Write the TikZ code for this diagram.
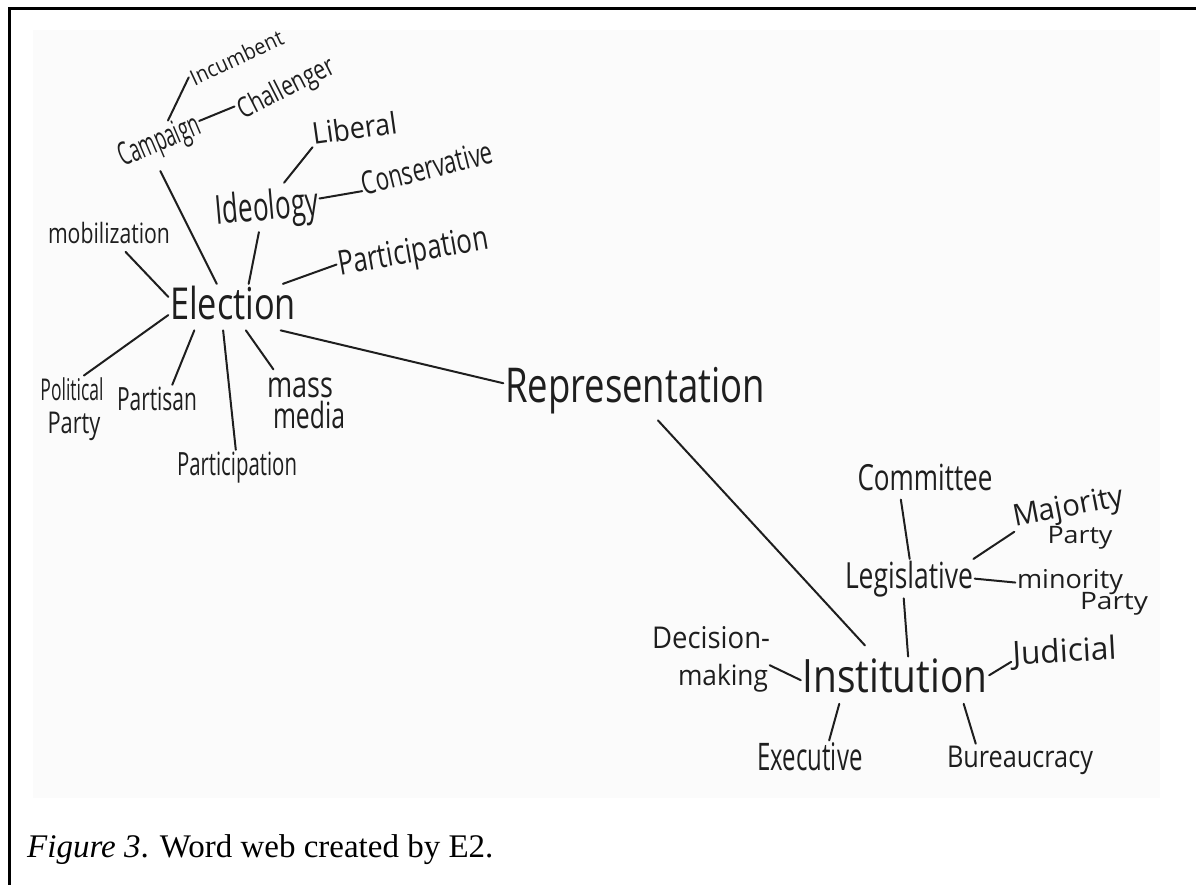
\documentclass[tikz,border=0pt]{standalone}
\usepackage{fontspec}
\usepackage{graphicx}
\setmainfont{Liberation Serif}
\newfontfamily\handfont{Open Sans}
\definecolor{ink}{HTML}{1E1E1E}
\definecolor{paper}{HTML}{FBFBFB}
% handwritten word: font size, target width, text (fixed strut so every box has the same height/depth)
\newcommand{\hw}[3]{\resizebox{#2pt}{\height}{\handfont\fontsize{#1pt}{#1pt}\selectfont\rule[-0.22em]{0pt}{0.94em}#3}}
\tikzset{
  word/.style={inner sep=1.5pt, anchor=base, text=ink},
  link/.style={draw=ink, line width=2pt, line cap=round},
}
\begin{document}
\begin{tikzpicture}[x=1pt,y=-1pt]
\useasboundingbox (0,0) rectangle (1196,885);
\fill[white] (0,0) rectangle (1196,885);
\fill[paper] (33,30) rectangle (1160,798);
\draw[line width=3pt] (9,885) -- (9,9) -- (1196,9);

% election cluster
\node[word, rotate=25] (incumbent) at (240,65) {\hw{22}{100}{Incumbent}};
\node[word, rotate=27] (challenger) at (290,96) {\hw{28}{105}{Challenger}};
\node[word, rotate=23] (campaign) at (163,150) {\hw{32}{86}{Campaign}};
\node[word, rotate=8] (liberal) at (356,139) {\hw{30}{85}{Liberal}};
\node[word, rotate=5] (ideology) at (268,220) {\hw{40}{103}{Ideology}};
\node[word, rotate=14] (conservative) at (430,179) {\hw{32}{134}{Conservative}};
\node[word, rotate=10] (particip1) at (415,262) {\hw{34}{152}{Participation}};
\node[word] (mobilization) at (109,244) {\hw{28}{122}{mobilization}};
\node[word] (election) at (233,319) {\hw{44}{126}{Election}};
\node[word] (political) at (72,400) {\hw{30}{63}{Political}};
\node[word] (party1) at (74,433) {\hw{30}{53}{Party}};
\node[word] (partisan) at (157,410) {\hw{32}{80}{Partisan}};
\node[word] (particip2) at (237,475) {\hw{32}{120}{Participation}};
\node[word] (mass) at (300,397) {\hw{36}{66}{mass}};
\node[word] (media) at (309,428) {\hw{36}{72}{media}};

\node[word] (representation) at (635,402) {\hw{48}{260}{Representation}};

% institution cluster
\node[word] (institution) at (895,692) {\hw{46}{185}{Institution}};
\node[word] (legislative) at (909,588) {\hw{36}{128}{Legislative}};
\node[word] (committee) at (925,490) {\hw{36}{135}{Committee}};
\node[word, rotate=11] (majority) at (1070,516) {\hw{30}{112}{Majority}};
\node[word] (party2) at (1080,543) {\hw{24}{65}{Party}};
\node[word] (minority) at (1070,588) {\hw{26}{106}{minority}};
\node[word] (party3) at (1114,609) {\hw{24}{68}{Party}};
\node[word, rotate=3] (judicial) at (1065,662) {\hw{32}{104}{Judicial}};
\node[word] (executive) at (810,770) {\hw{38}{105}{Executive}};
\node[word] (bureaucracy) at (1020,767) {\hw{30}{146}{Bureaucracy}};
\node[word] (decision) at (711,648) {\hw{30}{118}{Decision-}};
\node[word] (making) at (723,685) {\hw{28}{90}{making}};

% connectors
\draw[link] (campaign.47) -- (incumbent.175);
\draw[link] (campaign.6) -- (challenger.171);
\draw[link, shorten <=9pt] (campaign.237) -- (election.125);
\draw[link] (mobilization.317) -- (election.171);
\draw[link] (ideology.245) -- (election.56);
\draw[link, shorten <=5pt] (ideology.54) -- (liberal.193);
\draw[link] (ideology.7) -- (conservative.183);
\draw[link] (election.25) -- (particip1.178);
\draw[link] (election.187) -- (political.54);
\draw[link] (election.211) -- (partisan.48);
\draw[link] (election.247) -- (particip2.94);
\draw[link] (election.299) -- (mass.145);
\draw[link] (election.334) -- (representation.177);
\draw[link, shorten <=7pt, shorten >=15pt] (representation.306) -- (institution.130);
\draw[link] (committee.218) -- (legislative.88);
\draw[link] (legislative.17) -- (majority.192);
\draw[link] (legislative.0) -- (minority.181);
\draw[link] (legislative.255) -- (institution.61);
\draw[link] (institution.3) -- (judicial.186);
\draw[link] (institution.203) -- (executive.46);
\draw[link] (institution.341) -- (bureaucracy.160);
\draw[link] (institution.180) -- (making.15);

% caption
\node[anchor=base west, inner sep=0pt] (caption) at (27,857)
  {\fontsize{33pt}{33pt}\selectfont\textit{Figure 3}. Word web created by E2.};
\end{tikzpicture}
\end{document}
